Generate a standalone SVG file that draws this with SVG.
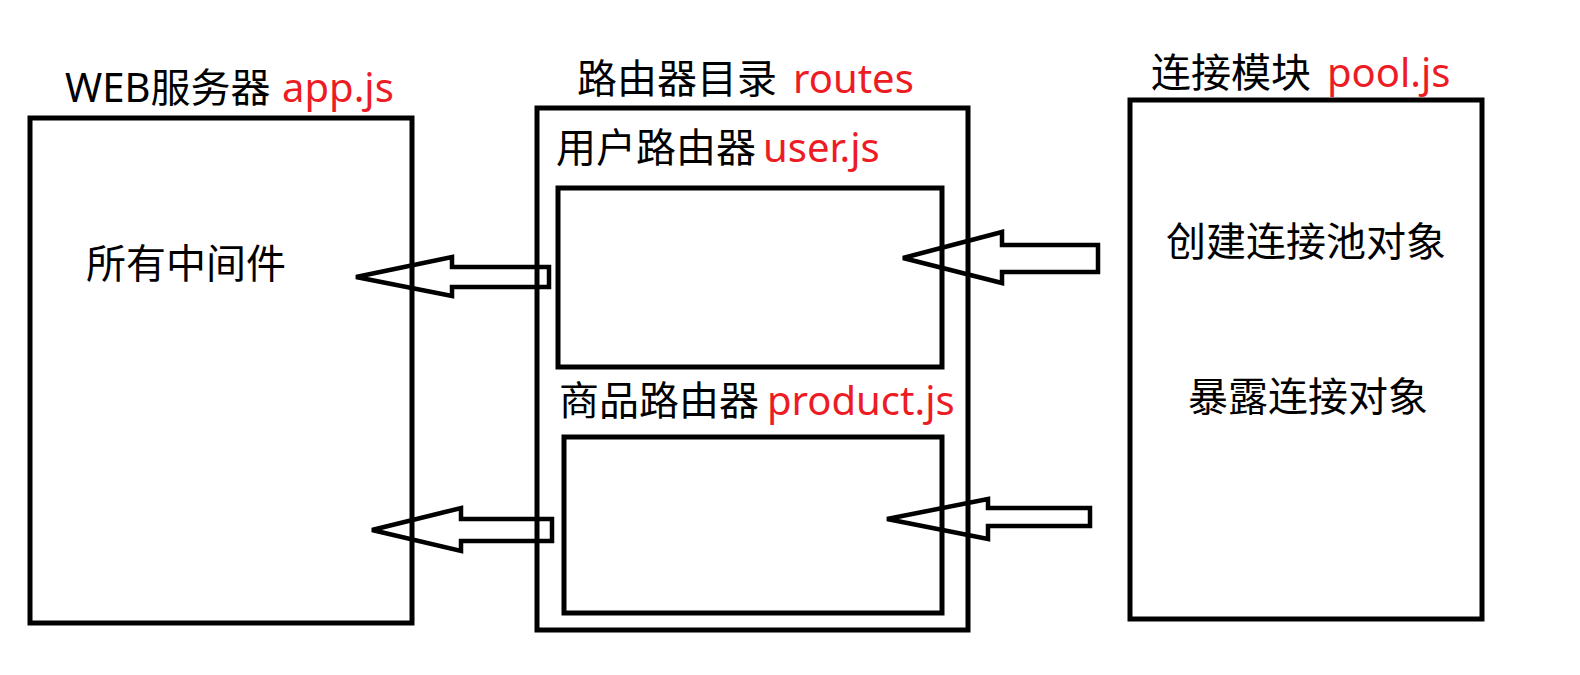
<svg xmlns="http://www.w3.org/2000/svg" width="1580" height="675" viewBox="0 0 1580 675">
<style>
.box{fill:none;stroke:#000;stroke-width:5}
.arr{fill:none;stroke:#000;stroke-width:4.5;stroke-linejoin:miter}
text{font-family:"Noto Sans","Noto Sans CJK SC",sans-serif;font-size:40px;fill:#000}
.red{fill:#ED1C24}
</style>
<rect width="1580" height="675" fill="#fff"/>
<g id="web-server">
<rect class="box" x="30" y="118" width="382" height="505"/>
<text x="65" y="102">WEB服务器<tspan class="red" x="282">app.js</tspan></text>
<text x="86" y="278">所有中间件</text>
</g>
<g id="routes">
<rect class="box" x="537" y="108" width="431" height="522"/>
<text x="577" y="93">路由器目录<tspan class="red" x="793">routes</tspan></text>
</g>
<g id="user-router">
<rect class="box" x="558" y="188" width="384" height="179"/>
<text x="556" y="162">用户路由器<tspan class="red" x="763">user.js</tspan></text>
</g>
<g id="product-router">
<rect class="box" x="564" y="437" width="378" height="176"/>
<text x="559" y="415">商品路由器<tspan class="red" x="767">product.js</tspan></text>
</g>
<g id="pool">
<rect class="box" x="1130" y="100" width="352" height="519"/>
<text x="1151" y="87">连接模块<tspan class="red" x="1327">pool.js</tspan></text>
<text x="1166" y="256">创建连接池对象</text>
<text x="1188" y="411">暴露连接对象</text>
</g>
<g id="connectors">
<polygon class="arr" points="356,277 452,257 452,267 549,267 549,287 452,287 452,296"/>
<polygon class="arr" points="903,258 1002,232 1002,245 1098,245 1098,272 1002,272 1002,283"/>
<polygon class="arr" points="372,530 461,508 461,519 552,519 552,541 461,541 461,551"/>
<polygon class="arr" points="887,519 988,499 988,508 1090,508 1090,526 988,526 988,539"/>
</g>
</svg>
